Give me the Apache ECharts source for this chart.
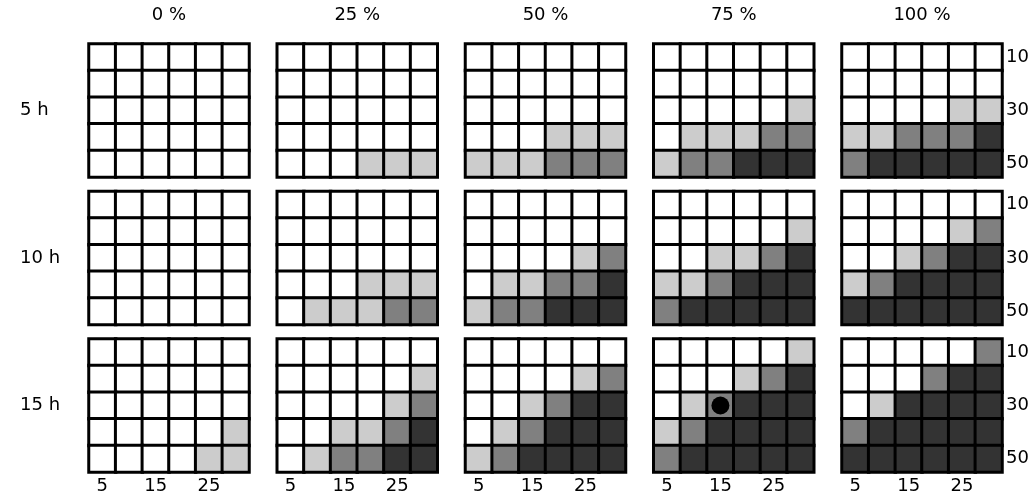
<!DOCTYPE html>
<html><head><meta charset="utf-8">
<script src="https://cdn.jsdelivr.net/npm/echarts@6/dist/echarts.min.js"></script>
<style>html,body{margin:0;padding:0;background:#fff}#c{width:1036px;height:499px}</style>
</head><body><div id="c"></div><script>
// categories
const xCats = ['5','10','15','20','25','30'];
const yCats = ['10','20','30','40','50'];
const rowLabels = ['5 h','10 h','15 h'];
const colLabels = ['0 %','25 %','50 %','75 %','100 %'];
// level per cell (rows = y 10..50, cols = x 5..30); 0 white, 1 light, 2 mid, 3 dark
const h5_p0   = [[0,0,0,0,0,0],[0,0,0,0,0,0],[0,0,0,0,0,0],[0,0,0,0,0,0],[0,0,0,0,0,0]];
const h5_p25  = [[0,0,0,0,0,0],[0,0,0,0,0,0],[0,0,0,0,0,0],[0,0,0,0,0,0],[0,0,0,1,1,1]];
const h5_p50  = [[0,0,0,0,0,0],[0,0,0,0,0,0],[0,0,0,0,0,0],[0,0,0,1,1,1],[1,1,1,2,2,2]];
const h5_p75  = [[0,0,0,0,0,0],[0,0,0,0,0,0],[0,0,0,0,0,1],[0,1,1,1,2,2],[1,2,2,3,3,3]];
const h5_p100 = [[0,0,0,0,0,0],[0,0,0,0,0,0],[0,0,0,0,1,1],[1,1,2,2,2,3],[2,3,3,3,3,3]];
const h10_p0   = [[0,0,0,0,0,0],[0,0,0,0,0,0],[0,0,0,0,0,0],[0,0,0,0,0,0],[0,0,0,0,0,0]];
const h10_p25  = [[0,0,0,0,0,0],[0,0,0,0,0,0],[0,0,0,0,0,0],[0,0,0,1,1,1],[0,1,1,1,2,2]];
const h10_p50  = [[0,0,0,0,0,0],[0,0,0,0,0,0],[0,0,0,0,1,2],[0,1,1,2,2,3],[1,2,2,3,3,3]];
const h10_p75  = [[0,0,0,0,0,0],[0,0,0,0,0,1],[0,0,1,1,2,3],[1,1,2,3,3,3],[2,3,3,3,3,3]];
const h10_p100 = [[0,0,0,0,0,0],[0,0,0,0,1,2],[0,0,1,2,3,3],[1,2,3,3,3,3],[3,3,3,3,3,3]];
const h15_p0   = [[0,0,0,0,0,0],[0,0,0,0,0,0],[0,0,0,0,0,0],[0,0,0,0,0,1],[0,0,0,0,1,1]];
const h15_p25  = [[0,0,0,0,0,0],[0,0,0,0,0,1],[0,0,0,0,1,2],[0,0,1,1,2,3],[0,1,2,2,3,3]];
const h15_p50  = [[0,0,0,0,0,0],[0,0,0,0,1,2],[0,0,1,2,3,3],[0,1,2,3,3,3],[1,2,3,3,3,3]];
const h15_p75  = [[0,0,0,0,0,1],[0,0,0,1,2,3],[0,1,2,3,3,3],[1,2,3,3,3,3],[2,3,3,3,3,3]];
const h15_p100 = [[0,0,0,0,0,2],[0,0,0,2,3,3],[0,1,3,3,3,3],[2,3,3,3,3,3],[3,3,3,3,3,3]];
const panels = [
  [h5_p0, h5_p25, h5_p50, h5_p75, h5_p100],
  [h10_p0, h10_p25, h10_p50, h10_p75, h10_p100],
  [h15_p0, h15_p25, h15_p50, h15_p75, h15_p100]
];
// highlighted point
const markRow = 2, markCol = 3, markX = '15', markY = '30';

const levelColors = ['#ffffff','#cccccc','#808080','#333333'];
const FONT = 'DejaVu Sans';
const FS = 18;
const gridLeft0 = 89, gridStepX = 188.25, gridW = 160;
const gridTop0 = 44, gridStepY = 147.5, gridH = 133;

const grid = [], xAxis = [], yAxis = [], series = [], graphic = [];
const heatIdx = [];
let g = 0;
for (let r = 0; r < 3; r++) {
  for (let c = 0; c < 5; c++) {
    grid.push({left: gridLeft0 + gridStepX*c, top: gridTop0 + gridStepY*r, width: gridW, height: gridH});
    xAxis.push({type:'category', gridIndex:g, data:xCats, position:'bottom',
      axisLine:{show:false}, axisTick:{show:false}, splitLine:{show:false},
      axisLabel:{show: r===2, interval:1, color:'#000', fontFamily:FONT, fontSize:FS, margin:5}});
    yAxis.push({type:'category', gridIndex:g, data:yCats, inverse:true, position:'right',
      axisLine:{show:false}, axisTick:{show:false}, splitLine:{show:false},
      axisLabel:{show: c===4, interval:1, color:'#000', fontFamily:FONT, fontSize:FS, margin:4}});
    const data = [];
    const m = panels[r][c];
    for (let yi = 0; yi < yCats.length; yi++)
      for (let xi = 0; xi < xCats.length; xi++)
        data.push([xi, yi, m[yi][xi]]);
    heatIdx.push(series.length);
    series.push({type:'heatmap', xAxisIndex:g, yAxisIndex:g, data,
      itemStyle:{borderColor:'#000', borderWidth:3},
      emphasis:{disabled:true}, silent:true});
    if (r === markRow && c === markCol) {
      series.push({type:'scatter', xAxisIndex:g, yAxisIndex:g, data:[[markX, markY]],
        symbolSize:18, itemStyle:{color:'#000', opacity:1}, z:5, silent:true});
    }
    g++;
  }
}
for (let c = 0; c < 5; c++) {
  graphic.push({type:'text', x: gridLeft0 + gridStepX*c + gridW/2, y: 6,
    style:{text: colLabels[c], font: FS + 'px "DejaVu Sans"', fill:'#000', align:'center', verticalAlign:'top'}});
}
for (let r = 0; r < 3; r++) {
  graphic.push({type:'text', x: 20, y: gridTop0 + gridStepY*r + gridH/2,
    style:{text: rowLabels[r], font: FS + 'px "DejaVu Sans"', fill:'#000', align:'left', verticalAlign:'middle'}});
}

const chart = echarts.init(document.getElementById('c'), null, {renderer:'canvas'});
chart.setOption({
  animation:false,
  backgroundColor:'#fff',
  grid, xAxis, yAxis, series, graphic,
  visualMap: {type:'piecewise', show:false, seriesIndex: heatIdx, dimension:2,
    pieces: levelColors.map((col,i)=>({value:i, color:col}))}
});
</script></body></html>
